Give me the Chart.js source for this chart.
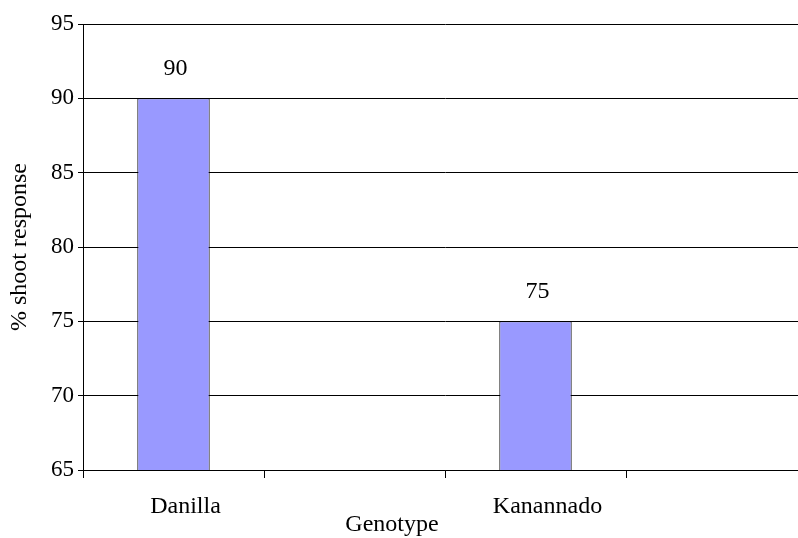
<!DOCTYPE html>
<html>
<head>
<meta charset="utf-8">
<title>% shoot response by genotype</title>
<script src="https://cdn.jsdelivr.net/npm/chart.js@4.4.0/dist/chart.umd.min.js"></script>
<style>
  html, body { margin: 0; padding: 0; background: #fff; overflow: hidden; }
  #wrap { width: 812px; height: 538px; }
</style>
</head>
<body>
<div id="wrap"><canvas id="c" width="812" height="538"></canvas></div>
<script>
// Genotypes on the category axis (blank slots keep the spacing between them)
const genotypes = ['Danilla', '', 'Kanannado', ''];
// Percentage of explants giving a shoot response
const shootResponse = [90, null, 75, null];
// Value axis range and step
const yMin = 65;
const yMax = 95;
const yStep = 5;

const serif = 'Liberation Serif, "Times New Roman", Times, serif';

// Prints each bar's value above its top
const valueLabels = {
  id: 'valueLabels',
  afterDatasetsDraw(chart) {
    const ctx = chart.ctx;
    const meta = chart.getDatasetMeta(0);
    ctx.save();
    ctx.font = '24px ' + serif;
    ctx.fillStyle = '#000';
    ctx.textAlign = 'center';
    ctx.textBaseline = 'middle';
    meta.data.forEach((bar, i) => {
      const v = chart.data.datasets[0].data[i];
      if (v === null || v === undefined) return;
      ctx.fillText(String(v), bar.x + 2, bar.y - 30);
    });
    ctx.restore();
  }
};

// Category axis caption
const xCaption = {
  id: 'xCaption',
  afterDraw(chart) {
    const ctx = chart.ctx;
    ctx.save();
    ctx.font = '24px ' + serif;
    ctx.fillStyle = '#000';
    ctx.textAlign = 'center';
    ctx.textBaseline = 'middle';
    ctx.fillText('Genotype', 392, 525);
    ctx.restore();
  }
};

new Chart(document.getElementById('c'), {
  type: 'bar',
  data: {
    labels: genotypes,
    datasets: [{
      data: shootResponse,
      backgroundColor: '#9999ff',
      borderColor: '#000000',
      borderWidth: 1,
      borderSkipped: false,
      barPercentage: 0.4,
      categoryPercentage: 1.0
    }]
  },
  options: {
    responsive: false,
    animation: false,
    layout: { padding: { top: 24, right: 5, left: 0, bottom: 0 } },
    plugins: {
      legend: { display: false },
      tooltip: { enabled: false },
      title: { display: false }
    },
    scales: {
      x: {
        offset: true,
        grid: {
          offset: true,
          drawOnChartArea: false,
          drawTicks: true,
          tickLength: 8,
          color: '#000'
        },
        border: { color: '#000', width: 1 },
        ticks: {
          color: '#000',
          font: { family: serif, size: 24 },
          labelOffset: 12,
          padding: 14,
          maxRotation: 0,
          autoSkip: false
        },
        afterFit(scale) { scale.height = 68; }
      },
      y: {
        min: yMin,
        max: yMax,
        ticks: {
          stepSize: yStep,
          color: '#000',
          font: { family: serif, size: 23 },
          padding: 4
        },
        grid: {
          color: '#000',
          lineWidth: 1,
          tickLength: 5
        },
        border: { color: '#000', width: 1 },
        title: {
          display: true,
          text: '% shoot response',
          color: '#000',
          font: { family: serif, size: 24 },
          padding: { top: 5, bottom: 0 }
        },
        afterFit(scale) { scale.width = 83; }
      }
    }
  },
  plugins: [valueLabels, xCaption]
});
</script>
</body>
</html>
